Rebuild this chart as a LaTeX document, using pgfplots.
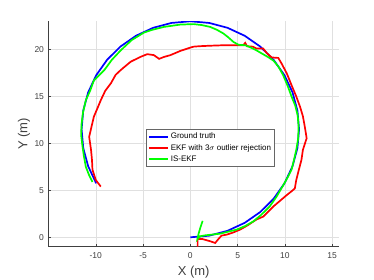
\documentclass[border=0pt]{standalone}
\usepackage{fontspec}
\setmainfont{Liberation Sans}
\usepackage{pgfplots}
\pgfplotsset{compat=1.18}
\definecolor{axgray}{gray}{0.25}
\definecolor{gridgray}{gray}{0.88}
\begin{document}
\begin{tikzpicture}
\path[use as bounding box] (-48.5pt,-33.3pt) rectangle (325.5pt,246.7pt);
\begin{axis}[
  at={(0,0)}, anchor=south west,
  scale only axis, width=290.3pt, height=225.4pt,
  xmin=-15, xmax=15.7, ymin=-1, ymax=23,
  axis x line*=bottom, axis y line*=left,
  axis line style={draw=axgray, line width=0.6pt, -},
  xtick={-10,-5,0,5,10,15}, ytick={0,5,10,15,20},
  tick align=inside, major tick length=3pt,
  tick style={draw=axgray, line width=0.5pt},
  grid=major, major grid style={draw=gridgray, line width=0.5pt},
  /pgf/number format/assume math mode=true,
  tick label style={font=\fontsize{8.5}{10}\selectfont, text=axgray},
  xticklabel style={yshift=-2pt},
  yticklabel style={xshift=-1pt},
  xlabel={X (m)}, ylabel={Y (m)},
  xlabel style={font=\fontsize{13}{15}\selectfont, text=axgray, at={(axis description cs:0.5,-0.1145)}, anchor=center},
  ylabel style={font=\fontsize{13}{15}\selectfont, text=axgray, at={(axis description cs:-0.0844,0.5)}, anchor=center},
  legend style={at={(axis cs:-4.66,11.5)}, anchor=north west, font=\fontsize{8}{9.5}\selectfont, draw=black!60, inner sep=1.5pt},
  legend cell align=left,
  legend image code/.code={\draw[#1] (0pt,0pt) -- (19pt,0pt);},
  legend image post style={line width=1.8pt},
]
\addplot[color=blue, line width=1.7pt] coordinates {
(0,0) (1.997,0.175) (3.933,0.693) (5.75,1.541) (7.392,2.691) (8.809,4.108)
(9.959,5.75) (10.806,7.567) (11.325,9.503) (11.5,11.5) (11.325,13.497)
(10.806,15.433) (9.959,17.25) (8.809,18.892) (7.392,20.309) (5.75,21.459)
(3.933,22.307) (1.997,22.825) (0,23) (-1.997,22.825) (-3.933,22.307)
(-5.75,21.459) (-7.392,20.309) (-8.809,18.892) (-9.959,17.25) (-10.806,15.433)
(-11.325,13.497) (-11.5,11.5) (-11.325,9.503) (-10.806,7.567) (-9.959,5.75)
};
\addlegendentry{Ground truth}
\addplot[color=red, line width=1.7pt] coordinates {
(0.77,-1.0) (0.77,-0.17) (1.23,-0.17) (2.1,-0.42) (2.63,-0.6) (2.98,-0.17)
(3.3,0.18) (3.86,0.29) (4.5,0.5) (5.26,0.82) (6.1,1.3) (7.0,1.9) (7.7,2.2)
(8.2,2.7) (8.8,3.3) (9.5,3.9) (10.2,4.5) (10.7,4.9) (11.05,5.2) (11.2,6.1)
(11.4,6.9) (11.75,8.25) (11.9,9.3) (12.3,10.55) (12.1,11.8) (11.9,12.9)
(11.6,13.9) (11.2,15.0) (10.7,16.2) (10.2,17.45) (9.65,18.5) (9.3,19.1)
(8.6,19.15) (8.1,19.6) (7.7,20.1) (7.0,20.1) (6.6,20.3) (6.0,20.35) (5.8,20.7)
(5.6,20.45) (4.5,20.45) (3.5,20.45) (2.1,20.4) (1.0,20.35) (0.35,20.3) (0,20.2)
(-1.05,19.85) (-2.1,19.4) (-2.8,19.2) (-3.3,19.0) (-3.86,19.4) (-4.56,19.5)
(-5.3,19.2) (-6.3,18.7) (-6.9,18.2) (-7.37,17.8) (-7.9,17.3) (-8.4,16.4)
(-9.0,15.6) (-9.47,14.6) (-9.8,13.8) (-10.2,12.85) (-10.4,12.0) (-10.7,10.7)
(-10.5,9.3) (-10.4,8.2) (-10.35,7.2) (-10.0,6.1) (-9.47,5.4)
};
\addlegendentry{EKF with 3$\sigma$ outlier rejection}
\addplot[color=green, line width=1.7pt] coordinates {
(1.3,1.75) (1.05,1.0) (0.85,0.3) (0.75,-0.2) (1.0,0.1) (1.5,0.2) (2.2,0.28)
(3.16,0.39) (4.0,0.6) (4.9,0.82) (5.8,1.2) (6.67,1.7) (7.5,2.4) (8.4,3.3)
(9.1,4.3) (9.8,5.5) (10.3,6.4) (10.7,7.2) (10.95,8.2) (11.2,9.3) (11.4,10.5)
(11.45,11.8) (11.35,13.0) (11.1,14.0) (10.7,15.0) (10.3,16.1) (9.8,17.3)
(9.3,18.2) (8.8,18.8) (8.2,19.2) (7.6,19.55) (7.0,19.9) (6.4,20.2) (5.8,20.45)
(5.1,20.5) (4.56,20.8) (4.0,21.3) (3.5,21.7) (2.8,22.1) (2.1,22.4) (1.2,22.6)
(0.35,22.7) (-1.05,22.65) (-2.8,22.4) (-4.0,22.1) (-4.9,21.8) (-6.2,21.0)
(-7.37,19.9) (-8.3,18.9) (-9.1,17.8) (-10.2,16.7) (-10.6,15.6) (-11.05,14.6)
(-11.35,13.3) (-11.5,12.1) (-11.55,10.9) (-11.4,9.66) (-11.25,8.6) (-11.05,7.5)
(-10.7,6.6) (-10.35,5.9)
};
\addlegendentry{IS-EKF}
\end{axis}
\end{tikzpicture}
\end{document}
